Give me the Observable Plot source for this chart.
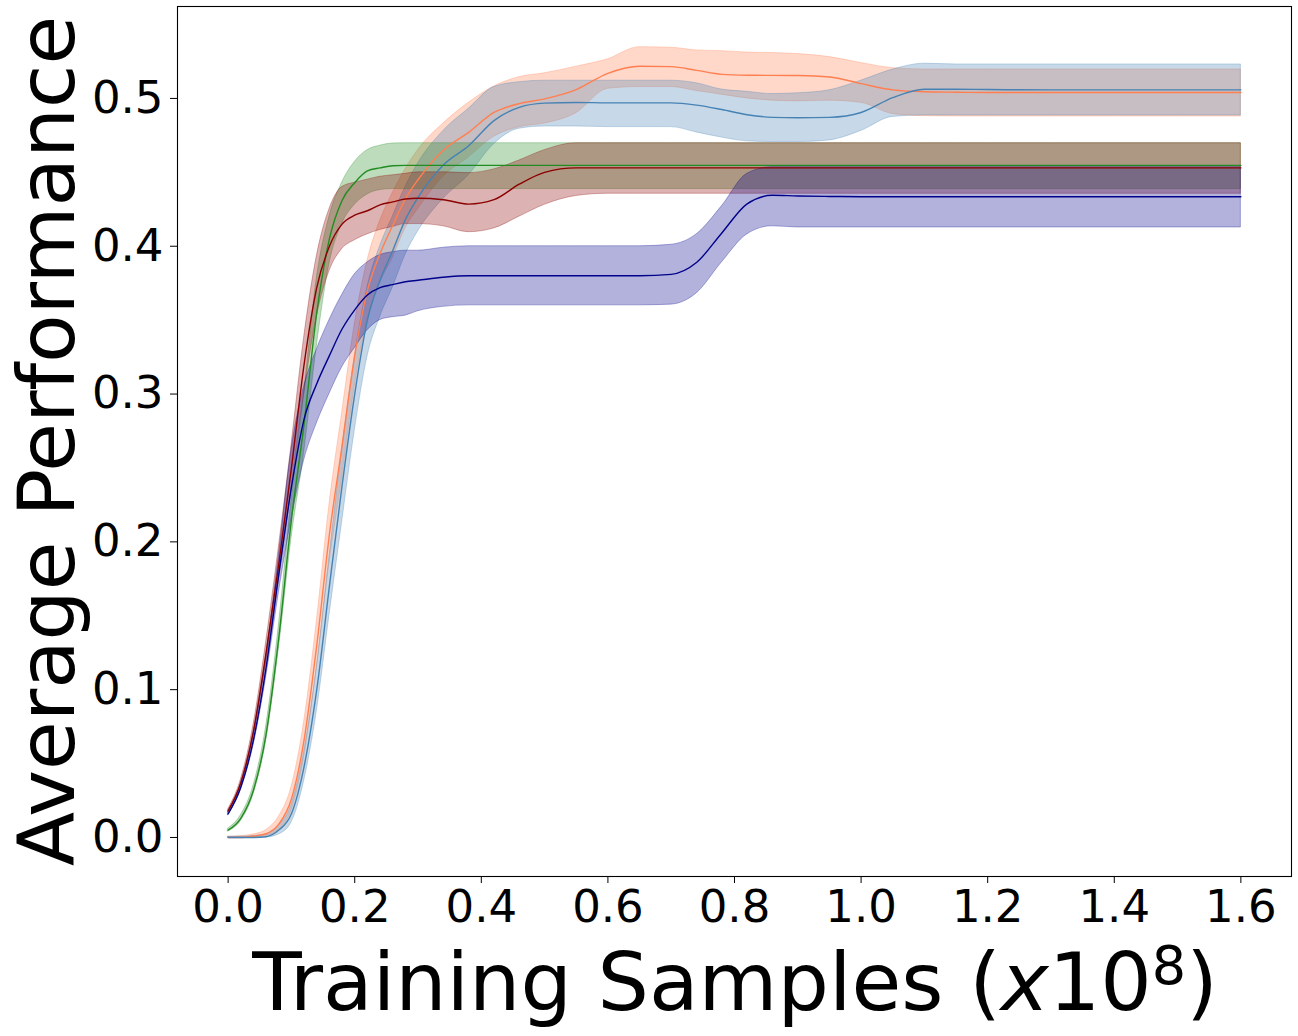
<!DOCTYPE html>
<html><head><meta charset="utf-8">
<script src="https://cdn.jsdelivr.net/npm/d3@7"></script>
<script src="https://cdn.jsdelivr.net/npm/@observablehq/plot@0.6"></script>
<style>body{margin:0;background:#fff} svg{display:block}</style>
</head><body><div id="chart"></div>
<script>
// training samples (x1e8)
const samples = [0,0.02,0.04,0.06,0.08,0.10,0.12,0.14,0.16,0.18,0.20,0.22,0.24,0.26,0.28,0.30,0.34,0.38,0.42,0.46,0.50,0.55,0.60,0.65,0.70,0.74,0.78,0.82,0.86,0.90,0.95,1.00,1.05,1.10,1.15,1.20,1.30,1.40,1.50,1.60];

const coralMean = [0,0,0.001,0.0025,0.009,0.026,0.066,0.13,0.205,0.265,0.326,0.37,0.395,0.414,0.432,0.445,0.465,0.477,0.4905,0.4965,0.4997,0.506,0.517,0.5218,0.5215,0.519,0.5163,0.5157,0.5156,0.5155,0.5145,0.510,0.5058,0.5045,0.5042,0.504,0.504,0.504,0.504,0.504];
const coralHi   = [0.0005,0.001,0.002,0.005,0.014,0.034,0.078,0.146,0.225,0.287,0.347,0.39,0.417,0.436,0.452,0.465,0.483,0.497,0.508,0.5144,0.517,0.5215,0.5265,0.5347,0.5343,0.5325,0.532,0.531,0.5307,0.530,0.528,0.524,0.5205,0.5196,0.5196,0.5196,0.5196,0.5196,0.5196,0.5196];
const coralLo   = [0,0,0,0.001,0.005,0.018,0.054,0.114,0.185,0.243,0.305,0.35,0.375,0.392,0.412,0.425,0.447,0.46,0.474,0.4805,0.483,0.490,0.5065,0.5077,0.5077,0.505,0.5025,0.500,0.4985,0.498,0.4985,0.497,0.4895,0.488,0.4878,0.4878,0.4878,0.4878,0.4878,0.4878];

const steelMean = [0,0,0,0.0005,0.005,0.016,0.048,0.10,0.17,0.238,0.30,0.35,0.377,0.397,0.418,0.433,0.455,0.468,0.485,0.494,0.4968,0.4973,0.497,0.497,0.497,0.4955,0.4925,0.489,0.4872,0.4869,0.4872,0.4905,0.5005,0.5062,0.5062,0.506,0.5058,0.5058,0.5058,0.5058];
const steelHi   = [0.0005,0.0005,0.001,0.002,0.008,0.022,0.058,0.115,0.19,0.262,0.325,0.372,0.40,0.42,0.44,0.456,0.478,0.493,0.5077,0.511,0.512,0.512,0.512,0.512,0.512,0.5103,0.506,0.5045,0.503,0.5035,0.5055,0.512,0.5195,0.5235,0.523,0.523,0.523,0.523,0.523,0.523];
const steelLo   = [0,0,0,0,0.002,0.01,0.038,0.085,0.15,0.213,0.275,0.325,0.352,0.372,0.394,0.41,0.432,0.448,0.469,0.4795,0.481,0.481,0.4806,0.4806,0.4806,0.477,0.4735,0.471,0.4705,0.4705,0.4716,0.478,0.4875,0.4885,0.4885,0.4885,0.4885,0.4885,0.4885,0.4885];

const greenMean = [0.005,0.013,0.032,0.070,0.135,0.215,0.28,0.355,0.405,0.431,0.443,0.451,0.453,0.4545,0.4547,0.4547,0.4547,0.4547,0.4547,0.4547,0.4547,0.4547,0.4547,0.4547,0.4547,0.4547,0.4547,0.4547,0.4547,0.4547,0.4547,0.4547,0.4547,0.4547,0.4547,0.4547,0.4547,0.4547,0.4547,0.4547];
const greenHi   = [0.006,0.015,0.035,0.075,0.143,0.228,0.30,0.378,0.42,0.443,0.457,0.465,0.468,0.4695,0.4697,0.4697,0.4697,0.4697,0.4697,0.4697,0.4697,0.4697,0.4697,0.4697,0.4697,0.4697,0.4697,0.4697,0.4697,0.4697,0.4697,0.4697,0.4697,0.4697,0.4697,0.4697,0.4697,0.4697,0.4697,0.4697];
const greenLo   = [0.004,0.011,0.029,0.065,0.127,0.202,0.26,0.332,0.388,0.415,0.428,0.435,0.438,0.4387,0.4387,0.4387,0.4387,0.4387,0.4387,0.4387,0.4387,0.4387,0.4387,0.4387,0.4387,0.4387,0.4387,0.4387,0.4387,0.4387,0.4387,0.4387,0.4387,0.4387,0.4387,0.4387,0.4387,0.4387,0.4387,0.4387];

const redMean = [0.018,0.037,0.072,0.125,0.185,0.25,0.32,0.372,0.40,0.415,0.421,0.424,0.428,0.430,0.432,0.4325,0.4315,0.4285,0.4315,0.442,0.450,0.453,0.453,0.453,0.453,0.453,0.453,0.453,0.453,0.453,0.453,0.453,0.453,0.453,0.453,0.453,0.453,0.453,0.453,0.453];
const redHi   = [0.019,0.039,0.076,0.132,0.196,0.265,0.338,0.393,0.425,0.44,0.443,0.445,0.447,0.448,0.449,0.450,0.450,0.4495,0.452,0.458,0.465,0.4697,0.4697,0.4697,0.4697,0.4697,0.4697,0.4697,0.4697,0.4697,0.4697,0.4697,0.4697,0.4697,0.4697,0.4697,0.4697,0.4697,0.4697,0.4697];
const redLo   = [0.017,0.035,0.068,0.118,0.174,0.235,0.30,0.352,0.383,0.398,0.404,0.408,0.411,0.413,0.415,0.415,0.4135,0.4095,0.412,0.42,0.428,0.434,0.4355,0.4355,0.4355,0.4355,0.4355,0.4355,0.4355,0.4355,0.4355,0.4355,0.4355,0.4355,0.4355,0.4355,0.4355,0.4355,0.4355,0.4355];

const navyMean = [0.016,0.034,0.066,0.115,0.178,0.237,0.283,0.307,0.326,0.344,0.357,0.367,0.372,0.374,0.376,0.377,0.379,0.380,0.380,0.380,0.380,0.380,0.380,0.380,0.381,0.389,0.409,0.4287,0.4345,0.434,0.4337,0.4335,0.4335,0.4335,0.4335,0.4335,0.4335,0.4335,0.4335,0.4335];
const navyHi   = [0.017,0.036,0.07,0.122,0.19,0.262,0.305,0.33,0.35,0.367,0.381,0.389,0.394,0.396,0.397,0.397,0.399,0.400,0.400,0.400,0.400,0.400,0.400,0.400,0.401,0.408,0.427,0.449,0.4535,0.4535,0.4535,0.4535,0.4535,0.4535,0.4535,0.4535,0.4535,0.4535,0.4535,0.4535];
const navyLo   = [0.015,0.032,0.062,0.108,0.165,0.215,0.255,0.28,0.30,0.318,0.331,0.343,0.35,0.352,0.353,0.356,0.359,0.360,0.360,0.360,0.360,0.360,0.360,0.360,0.3605,0.368,0.389,0.408,0.4135,0.4127,0.4127,0.4127,0.4127,0.4127,0.4127,0.4127,0.4127,0.4127,0.4127,0.4127];

const xTicks = [0,0.2,0.4,0.6,0.8,1.0,1.2,1.4,1.6];
const yTicks = [0,0.1,0.2,0.3,0.4,0.5];

const series = [
  {color: "coral",       mean: coralMean, lo: coralLo, hi: coralHi},
  {color: "steelblue",   mean: steelMean, lo: steelLo, hi: steelHi},
  {color: "forestgreen", mean: greenMean, lo: greenLo, hi: greenHi},
  {color: "darkred",     mean: redMean,   lo: redLo,   hi: redHi},
  {color: "darkblue",    mean: navyMean,  lo: navyLo,  hi: navyHi}
];
const tables = series.map(s => samples.map((x, i) => ({x, mean: s.mean[i], lo: s.lo[i], hi: s.hi[i]})));

const marks = [];
series.forEach((s, k) => marks.push(Plot.areaY(tables[k], {x: "x", y1: "lo", y2: "hi", fill: s.color, fillOpacity: 0.3, stroke: s.color, strokeOpacity: 0.3, strokeWidth: 1, curve: "monotone-x"})));
series.forEach((s, k) => marks.push(Plot.lineY(tables[k], {x: "x", y: "mean", stroke: s.color, strokeWidth: 1.4, curve: "monotone-x"})));
marks.push(Plot.frame({stroke: "#000", strokeWidth: 1.1}));
marks.push(Plot.axisX({ticks: xTicks, tickFormat: d => d.toFixed(1), tickSize: 7, tickPadding: 7, fontSize: 45, label: null, stroke: "#000"}));
marks.push(Plot.axisY({ticks: yTicks, tickFormat: d => d.toFixed(1), tickSize: 7, tickPadding: 7, fontSize: 45, label: null, stroke: "#000"}));

const chart = Plot.plot({
  width: 1298, height: 1036,
  marginLeft: 177, marginRight: 7, marginTop: 6, marginBottom: 160,
  style: {fontFamily: "DejaVu Sans", color: "#000", background: "#fff"},
  x: {domain: [-0.08, 1.68]},
  y: {domain: [-0.0264, 0.5622]},
  marks
});
document.getElementById("chart").appendChild(chart);

const svg = d3.select(chart);
const xl = svg.append("text").attr("x", 735).attr("y", 1010).attr("text-anchor", "middle")
  .attr("font-family", "DejaVu Sans").attr("font-size", 81).attr("fill", "#000");
xl.append("tspan").text("Training Samples (");
xl.append("tspan").attr("font-style", "italic").text("x");
xl.append("tspan").text("10");
xl.append("tspan").attr("font-size", 54).attr("dy", -26).text("8");
xl.append("tspan").attr("dy", 26).text(")");

svg.append("text").attr("transform", "translate(74,441) rotate(-90)").attr("text-anchor", "middle")
  .attr("font-family", "DejaVu Sans").attr("font-size", 79).attr("fill", "#000")
  .text("Average Performance");
</script>
</body></html>
